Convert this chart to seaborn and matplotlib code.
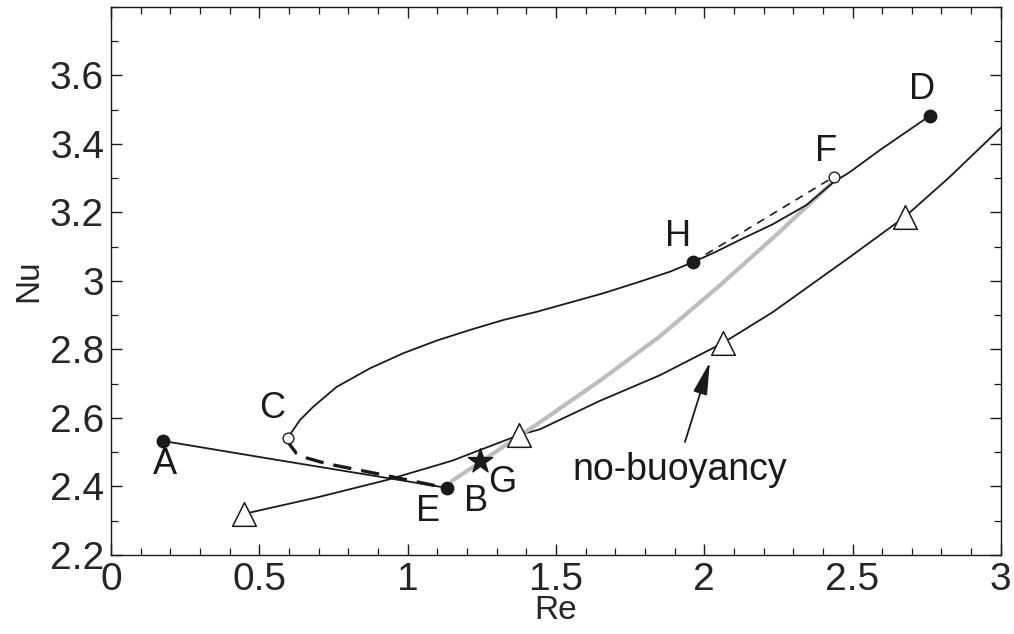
import numpy as np
import pandas as pd
import matplotlib
matplotlib.use("Agg")
import matplotlib.pyplot as plt
import seaborn as sns
from matplotlib.ticker import MultipleLocator

# Upper branch: C -> H -> F -> D (solid)
upper_re = [0.597, 0.606, 0.637, 0.682, 0.761, 0.873, 0.985, 1.098, 1.210, 1.322,
            1.435, 1.547, 1.659, 1.772, 1.884, 1.962, 2.039, 2.120, 2.232, 2.345,
            2.437, 2.491, 2.592, 2.676, 2.760]
upper_nu = [2.542, 2.555, 2.594, 2.633, 2.691, 2.745, 2.789, 2.826, 2.857, 2.886,
            2.910, 2.937, 2.964, 2.995, 3.027, 3.055, 3.085, 3.120, 3.166, 3.222,
            3.289, 3.318, 3.382, 3.432, 3.482]

# Branch A -> E (solid)
ae_re = [0.175, 0.55, 0.93, 1.132]
ae_nu = [2.533, 2.479, 2.425, 2.396]

# Branch C -> E (dashed)
ce_re = [0.597, 0.603, 0.625, 0.661, 0.705, 0.748, 0.830, 0.917, 1.000, 1.085, 1.132]
ce_nu = [2.542, 2.522, 2.497, 2.483, 2.472, 2.463, 2.449, 2.434, 2.419, 2.404, 2.396]

# Branch H -> F (thin dashed)
hf_re = [1.962, 2.437]
hf_nu = [3.055, 3.304]

# Grey path from B through G to F
grey_re = [1.149, 1.250, 1.450, 1.650, 1.850, 2.050, 2.250, 2.425]
grey_nu = [2.416, 2.474, 2.590, 2.710, 2.838, 2.985, 3.140, 3.282]

# No-buoyancy reference curve
nb_re = [0.448, 0.694, 0.930, 1.149, 1.375, 1.446, 1.648, 1.851, 2.063, 2.231,
         2.491, 2.676, 2.828, 3.000]
nb_nu = [2.320, 2.368, 2.419, 2.475, 2.550, 2.567, 2.650, 2.725, 2.819, 2.909,
         3.070, 3.187, 3.304, 3.447]
nb_mark_re = [0.448, 1.375, 2.063, 2.676]
nb_mark_nu = [2.320, 2.550, 2.819, 3.187]

# Marked states
filled_re = [0.175, 1.132, 1.962, 2.760]
filled_nu = [2.533, 2.396, 3.055, 3.482]
open_re = [0.597, 2.437]
open_nu = [2.542, 3.304]
star_re = [1.244]
star_nu = [2.474]

point_labels = ["A", "B", "C", "D", "E", "F", "G", "H"]
label_re = [0.182, 1.230, 0.543, 2.733, 1.068, 2.410, 1.318, 1.911]
label_nu = [2.463, 2.355, 2.629, 3.558, 2.326, 3.377, 2.413, 3.131]

sns.set_style("ticks")
plt.rcParams["font.family"] = ["Liberation Sans", "DejaVu Sans"]
plt.rcParams["xtick.direction"] = "in"
plt.rcParams["ytick.direction"] = "in"

fig = plt.figure(figsize=(10.14, 6.34), dpi=100)
ax = fig.add_axes([0.1095, 0.1246, 0.8775, 0.8644])

black = "#1a1a1a"

sns.lineplot(x=nb_re, y=nb_nu, sort=False, ax=ax, color=black, lw=1.3, estimator=None)
sns.lineplot(x=grey_re, y=grey_nu, sort=False, ax=ax, color="#bdbdbd", lw=3.0, estimator=None)
sns.lineplot(x=upper_re, y=upper_nu, sort=False, ax=ax, color=black, lw=1.3, estimator=None)
sns.lineplot(x=ae_re, y=ae_nu, sort=False, ax=ax, color=black, lw=1.3, estimator=None)
ax.plot(ce_re, ce_nu, color=black, lw=2.4, ls=(0, (5.5, 3)))
ax.plot(hf_re, hf_nu, color=black, lw=1.2, ls=(0, (5, 4)))

ax.scatter(nb_mark_re, nb_mark_nu, marker="^", s=290, facecolor="white",
           edgecolor=black, linewidths=1.1, zorder=5)
ax.scatter(filled_re, filled_nu, marker="o", s=80, color=black, zorder=6)
ax.scatter(open_re, open_nu, marker="o", s=60, facecolor="white",
           edgecolor=black, linewidths=1.0, zorder=6)
ax.scatter(star_re, star_nu, marker="*", s=340, color=black, zorder=7)

for lab, xr, yn in zip(point_labels, label_re, label_nu):
    ax.text(xr, yn, lab, fontsize=26, ha="center", va="center", color=black)

ax.annotate("", xy=(2.019, 2.763), xytext=(1.935, 2.530),
            arrowprops=dict(arrowstyle="-|>,head_length=1.0,head_width=0.22",
                            color=black, lw=1.3, mutation_scale=20,
                            shrinkA=0, shrinkB=0))
ax.text(1.918, 2.448, "no-buoyancy", fontsize=27, ha="center", va="center",
        color=black)

ax.set_xlim(0, 3)
ax.set_ylim(2.2, 3.8)
ax.set_xticks([0, 0.5, 1, 1.5, 2, 2.5, 3])
ax.set_xticklabels(["0", "0.5", "1", "1.5", "2", "2.5", "3"])
ax.set_yticks([2.2, 2.4, 2.6, 2.8, 3.0, 3.2, 3.4, 3.6])
ax.set_yticklabels(["2.2", "2.4", "2.6", "2.8", "3", "3.2", "3.4", "3.6"])
ax.xaxis.set_minor_locator(MultipleLocator(0.1))
ax.yaxis.set_minor_locator(MultipleLocator(0.1))
ax.tick_params(which="both", top=True, right=True, color=black)
ax.tick_params(which="major", length=8, width=1.0, labelsize=28, pad=5)
ax.tick_params(which="minor", length=5, width=0.9)
for s in ax.spines.values():
    s.set_linewidth(1.0)
    s.set_color(black)

ax.set_xlabel("Re", fontsize=24, labelpad=-2)
ax.set_ylabel("Nu", fontsize=24, labelpad=4)

fig.savefig("out.png", dpi=100)
